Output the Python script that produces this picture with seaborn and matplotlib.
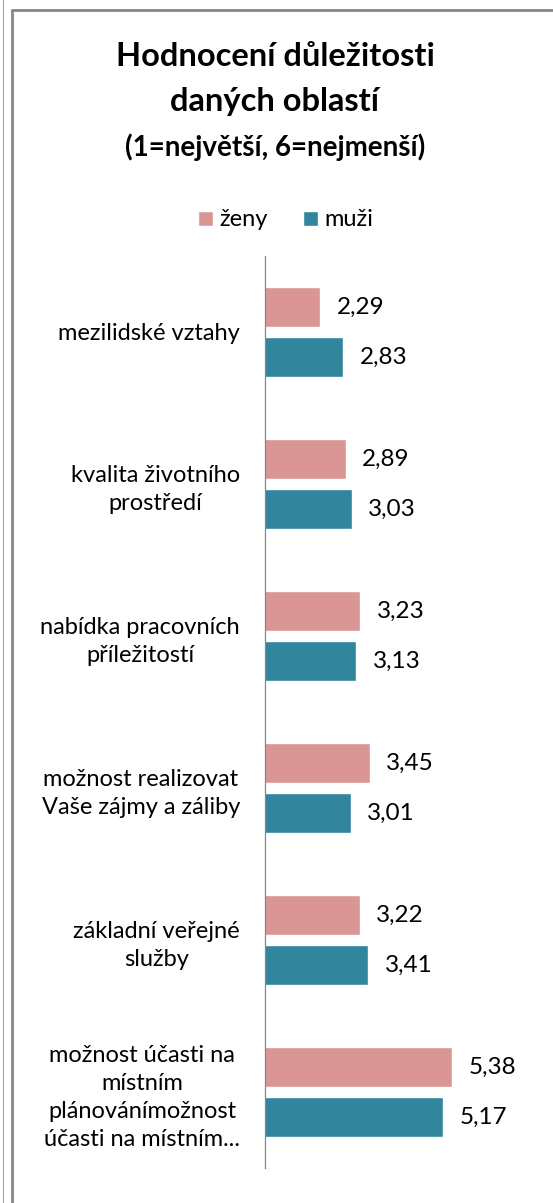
import numpy as np
import pandas as pd
import matplotlib
matplotlib.use('Agg')
import matplotlib.pyplot as plt
import seaborn as sns
from matplotlib.lines import Line2D

categories = ["mezilidské vztahy",
              "kvalita životního\nprostředí",
              "nabídka pracovních\npříležitostí",
              "možnost realizovat\nVaše zájmy a záliby",
              "základní veřejné\nslužby",
              "možnost účasti na\nmístním\nplánovánímožnost\núčasti na místním..."]
zeny = [2.29, 2.89, 3.23, 3.45, 3.22, 5.38]
muzi = [2.83, 3.03, 3.13, 3.01, 3.41, 5.17]
series = ["ženy", "muži"]
colors = ["#D99694", "#31859C"]

df = pd.DataFrame({
    "oblast": categories * 2,
    "hodnota": zeny + muzi,
    "pohlavi": [series[0]] * len(zeny) + [series[1]] * len(muzi),
})

sns.set_style("white")
plt.rcParams['font.family'] = ['Lato', 'DejaVu Sans']
plt.rcParams['text.color'] = 'black'

W, H = 553, 1203
fig = plt.figure(figsize=(W / 100, H / 100), dpi=100)
ax = fig.add_axes([265 / W, 35 / H, 256 / W, 912 / H])

sns.barplot(data=df, y="oblast", x="hodnota", hue="pohlavi", orient="h",
            palette=colors, saturation=1, width=0.66, gap=0.2, ax=ax, legend=True)

ax.set_xlim(1, 7)
ax.set_xlabel("")
ax.set_ylabel("")
ax.set_xticks([])
for s in ["top", "right", "bottom"]:
    ax.spines[s].set_visible(False)
ax.spines["left"].set_color("#868686")
ax.spines["left"].set_linewidth(0.9)
ax.tick_params(axis="y", length=0, pad=18, labelsize=17, labelcolor="black")
for t in ax.get_yticklabels():
    t.set_multialignment("center")
    t.set_linespacing(1.4)

for cont in ax.containers:
    vals = [b.get_width() for b in cont]
    ax.bar_label(cont, labels=[f"{v:.2f}".replace(".", ",") for v in vals],
                 padding=12, fontsize=17.5, color="black")

handles, labels = ax.get_legend_handles_labels()
ax.legend(handles, labels, loc="center", bbox_to_anchor=(286 / W, 1 - 220 / H),
          bbox_transform=fig.transFigure, ncol=2, frameon=False, fontsize=17,
          handlelength=0.6, handleheight=0.6, handletextpad=0.3,
          columnspacing=1.5, labelcolor="black")

fig.text(275 / W, 1 - 57 / H, "Hodnocení důležitosti", ha="center", va="center",
         fontsize=23.5, fontweight="bold", color="black")
fig.text(275 / W, 1 - 101 / H, "daných oblastí", ha="center", va="center",
         fontsize=23.5, fontweight="bold", color="black")
fig.text(275 / W, 1 - 147 / H, "(1=největší, 6=nejmenší)", ha="center", va="center",
         fontsize=20, fontweight="bold", color="black")

# chart frame (cut off at right and bottom)
fig.add_artist(Line2D([12 / W, 1], [1 - 9.5 / H, 1 - 9.5 / H], color="#878787", lw=2,
                      transform=fig.transFigure))
fig.add_artist(Line2D([12 / W, 12 / W], [0, 1 - 9.5 / H], color="#878787", lw=2,
                      transform=fig.transFigure))
fig.add_artist(Line2D([2.5 / W, 2.5 / W], [0, 1], color="#a6a6a6", lw=0.8,
                      transform=fig.transFigure))

fig.savefig("out.png", dpi=100)
